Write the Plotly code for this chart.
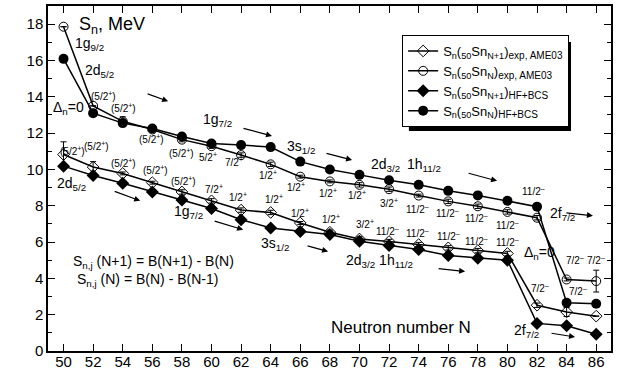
import plotly.graph_objects as go

# Neutron number N (Sn isotopes, Z = 50)
N = [50, 52, 54, 56, 58, 60, 62, 64, 66, 68, 70, 72, 74, 76, 78, 80, 82, 84, 86]

# S_n(50Sn_{N+1}), experiment (AME03), MeV
sn_np1_exp = [10.82, 10.13, 9.78, 9.27, 8.76, 8.27, 7.76, 7.63, 7.05, 6.54, 6.17,
              6.03, 5.86, 5.68, 5.53, 5.37, 2.52, 2.15, 1.92]
sn_np1_exp_err = [0.7, 0.3, 0.08, 0.08, 0.12, 0.12, 0.12, 0.12, 0.08, 0.12, 0.12,
                  0.12, 0.12, 0.12, 0.12, 0.12, 0.12, 0.25, 0.0]
# S_n(50Sn_N), experiment (AME03), MeV
sn_n_exp = [17.86, 13.5, 12.65, 12.2, 11.64, 11.28, 10.79, 10.28, 9.6, 9.34, 9.15,
            8.91, 8.56, 8.24, 7.97, 7.66, 7.34, 3.94, 3.85]
sn_n_exp_err = [0.0, 0.0, 0.25, 0.08, 0.12, 0.12, 0.12, 0.12, 0.08, 0.08, 0.12,
                0.12, 0.08, 0.12, 0.12, 0.12, 0.12, 0.08, 0.6]
# S_n(50Sn_{N+1}), HF+BCS, MeV
sn_np1_hf = [10.18, 9.67, 9.24, 8.76, 8.32, 7.85, 7.23, 6.78, 6.58, 6.41, 6.05,
             5.81, 5.59, 5.26, 5.11, 5.0, 1.52, 1.39, 0.92]
# S_n(50Sn_N), HF+BCS, MeV
sn_n_hf = [16.09, 13.1, 12.55, 12.25, 11.81, 11.43, 11.34, 11.23, 10.43, 10.0, 9.7,
           9.4, 9.15, 8.82, 8.57, 8.27, 7.95, 2.66, 2.6]

# spin-parity labels next to the experimental points
P = "<sup>+</sup>"
M = "<sup>–</sup>"
spins_n = ["", "(5/2" + P + ")", "(5/2" + P + ")", "(5/2" + P + ")", "(5/2" + P + ")",
           "5/2" + P, "7/2" + P, "1/2" + P, "1/2" + P, "1/2" + P, "1/2" + P, "3/2" + P,
           "11/2" + M, "11/2" + M, "11/2" + M, "11/2" + M, "", "7/2" + M, "7/2" + M]
spins_np1 = ["(5/2" + P + ")", "(5/2" + P + ")", "(5/2" + P + ")", "(5/2" + P + ")",
             "(5/2" + P + ")", "7/2" + P, "1/2" + P, "1/2" + P, "1/2" + P, "1/2" + P,
             "3/2" + P, "11/2" + M, "11/2" + M, "11/2" + M, "11/2" + M, "11/2" + M,
             "7/2" + M, "7/2" + M, ""]

FONT = "Liberation Sans, Arial, sans-serif"
BLACK = "black"

fig = go.Figure()

err_style = dict(type="data", visible=True, color=BLACK, thickness=1, width=3)


def small(s):
    return "<span style='font-size:10px'>" + s + "</span>"


fig.add_trace(go.Scatter(
    x=N, y=sn_np1_exp, mode="lines+markers",
    name="S<sub>n</sub>(<sub>50</sub>Sn<sub>N+1</sub>)<sub>" + small("exp, AME03") + "</sub>",
    line=dict(color=BLACK, width=1.5),
    marker=dict(symbol="diamond-open", size=9, color=BLACK, line=dict(width=1)),
    error_y=dict(array=sn_np1_exp_err, **err_style),
))
fig.add_trace(go.Scatter(
    x=N, y=sn_n_exp, mode="lines+markers",
    name="S<sub>n</sub>(<sub>50</sub>Sn<sub>N</sub>)<sub>" + small("exp, AME03") + "</sub>",
    line=dict(color=BLACK, width=1.5),
    marker=dict(symbol="circle-open", size=9, color=BLACK, line=dict(width=1)),
    error_y=dict(array=sn_n_exp_err, **err_style),
))
fig.add_trace(go.Scatter(
    x=N, y=sn_np1_hf, mode="lines+markers",
    name="S<sub>n</sub>(<sub>50</sub>Sn<sub>N+1</sub>)<sub>" + small("HF+BCS") + "</sub>",
    line=dict(color=BLACK, width=1.5),
    marker=dict(symbol="diamond", size=10, color=BLACK),
))
fig.add_trace(go.Scatter(
    x=N, y=sn_n_hf, mode="lines+markers",
    name="S<sub>n</sub>(<sub>50</sub>Sn<sub>N</sub>)<sub>" + small("HF+BCS") + "</sub>",
    line=dict(color=BLACK, width=1.5),
    marker=dict(symbol="circle", size=10, color=BLACK),
))

annotations = []


def label(x, y, text, size=10, xshift=0, yshift=0, xanchor="center"):
    annotations.append(dict(x=x, y=y, xref="x", yref="y", text=text, showarrow=False,
                            xshift=xshift, yshift=yshift, xanchor=xanchor,
                            font=dict(family=FONT, size=size, color=BLACK)))


# spin labels: offsets (px) from each point
off_n = [(0, 0), (10, 10), (1, 13), (-1, -10), (0, -13), (-4, -11), (-7, -7), (-3, -11),
         (-4, -10), (-2, -12), (-2, -10), (0, -14), (-1, -13), (-1, -12), (-1, -12),
         (0, -13), (0, 0), (8, 19), (0, 21)]
off_np1 = [(9, 4), (3, 21), (1, 10), (3, 13), (2, 11), (2, 12), (-3, 13), (3, 13),
           (0, 10), (1, 13), (6, 15), (-2, 11), (-1, 12), (0, 12), (-1, 10), (0, 11),
           (3, 17), (11, 21), (0, 0)]
for n, v, t, (dx, dy) in zip(N, sn_n_exp, spins_n, off_n):
    if t:
        label(n, v, t, xshift=dx, yshift=dy)
for n, v, t, (dx, dy) in zip(N, sn_np1_exp, spins_np1, off_np1):
    if t:
        label(n, v, t, xshift=dx, yshift=dy)
label(N[16], sn_n_hf[16], "11/2" + M, xshift=-4, yshift=16)

# single-particle orbitals being filled
label(51.73, 16.88, "1g<sub>9/2</sub>", size=14)
label(52.41, 15.4, "2d<sub>5/2</sub>", size=14)
label(50.31, 13.37, "Δ<sub>n</sub>=0", size=14)
label(60.39, 12.71, "1g<sub>7/2</sub>", size=14)
label(66.05, 11.23, "3s<sub>1/2</sub>", size=14)
label(71.73, 10.25, "2d<sub>3/2</sub>", size=14)
label(74.36, 10.25, "1h<sub>11/2</sub>", size=14)
label(83.69, 7.56, "2f<sub>7/2</sub>", size=14)
label(50.51, 9.2, "2d<sub>5/2</sub>", size=14)
label(58.42, 7.67, "1g<sub>7/2</sub>", size=14)
label(64.28, 5.92, "3s<sub>1/2</sub>", size=14)
label(71.33, 4.93, "2d<sub>3/2</sub> 1h<sub>11/2</sub>", size=14)
label(82.2, 5.37, "Δ<sub>n</sub>=0", size=14)
label(81.26, 1.1, "2f<sub>7/2</sub>", size=14)

# definitions and titles
label(56.05, 4.88, "S<sub>n,j</sub> (N+1) = B(N+1) - B(N)", size=14)
label(55.7, 3.89, "S<sub>n,j</sub> (N) = B(N) - B(N-1)", size=14)
label(72.81, 1.32, "Neutron number N", size=17)
label(50.9, 17.95, "S<sub>n</sub>, MeV", size=18, xanchor="left")

# arrows showing the direction of shell filling: (head x, head y, tail dx, tail dy)
arrows = [(57.07, 13.75, -22, -8), (64.09, 11.84, -30, -8), (69.5, 10.52, -27, -7),
          (79.3, 9.37, -30, -8), (85.78, 7.45, -28, -3), (55.18, 8.27, -27, -10),
          (62.14, 6.68, -30, -9), (67.88, 5.48, -22, -6), (77.14, 4.38, -28, -3),
          (84.57, 0.77, -25, -4)]
for hx, hy, tx, ty in arrows:
    annotations.append(dict(x=hx, y=hy, xref="x", yref="y", ax=tx, ay=ty,
                            axref="pixel", ayref="pixel", text="", showarrow=True,
                            arrowhead=2, arrowsize=1, arrowwidth=1.2, arrowcolor=BLACK))

# legend drop shadow (sits behind the opaque legend box)
shapes = [dict(type="rect", xref="paper", yref="paper", x0=0.641, x1=0.929,
               y0=0.638, y1=0.896, fillcolor=BLACK, line=dict(width=0), layer="above")]

axis_common = dict(showline=True, linecolor=BLACK, linewidth=1.5, mirror="allticks",
                   ticks="inside", tickcolor=BLACK, tickwidth=1, ticklen=7,
                   showgrid=False, zeroline=False,
                   tickfont=dict(family=FONT, size=15, color=BLACK))

fig.update_layout(
    width=623, height=378,
    margin=dict(l=48, r=12, t=4, b=27),
    paper_bgcolor="white", plot_bgcolor="white",
    showlegend=True,
    legend=dict(x=0.629, y=0.916, xanchor="left", yanchor="top",
                bgcolor="white", bordercolor=BLACK, borderwidth=1,
                font=dict(family=FONT, size=13, color=BLACK), tracegroupgap=0),
    xaxis=dict(range=[48.95, 87.0], tickvals=N, ticklabelstandoff=-4, **axis_common),
    yaxis=dict(range=[0, 19], tickvals=list(range(0, 19, 2)),
               minor=dict(tickvals=list(range(1, 19, 2)), ticks="inside", ticklen=4,
                          tickcolor=BLACK, tickwidth=1),
               **axis_common),
    annotations=annotations,
    shapes=shapes,
)

fig.write_html("out.html")
